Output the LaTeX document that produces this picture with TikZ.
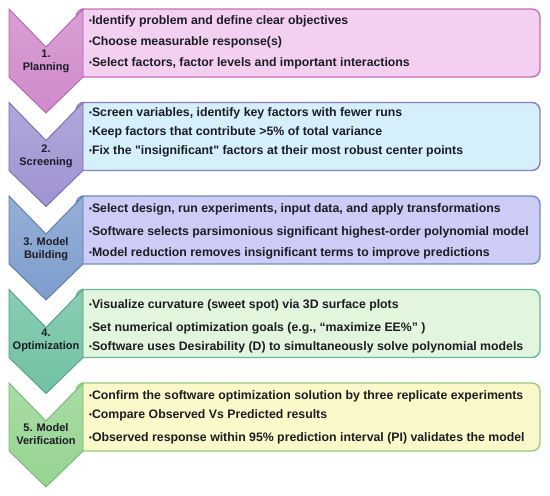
\documentclass[tikz,border=0pt]{standalone}
\usepackage{fontspec}
\newfontfamily\diagfont{Liberation Sans}
\definecolor{txt}{HTML}{1C1C24}
\definecolor{chA}{HTML}{D08ACB}\definecolor{chAd}{HTML}{B462AC}
\definecolor{bxA}{HTML}{F3D0EF}\definecolor{bxAd}{HTML}{C46EBC}
\definecolor{chB}{HTML}{A093D2}\definecolor{chBd}{HTML}{7A6AB2}
\definecolor{bxB}{HTML}{D5EFFB}\definecolor{bxBd}{HTML}{8C7CC0}
\definecolor{chC}{HTML}{7E9DCD}\definecolor{chCd}{HTML}{5A7AAE}
\definecolor{bxC}{HTML}{CCCCF6}\definecolor{bxCd}{HTML}{6E8EBF}
\definecolor{chD}{HTML}{70C2A2}\definecolor{chDd}{HTML}{4FA080}
\definecolor{bxD}{HTML}{E2F5DD}\definecolor{bxDd}{HTML}{66B896}
\definecolor{chE}{HTML}{96D491}\definecolor{chEd}{HTML}{74B870}
\definecolor{bxE}{HTML}{FBF9C9}\definecolor{bxEd}{HTML}{94CC80}
\tikzset{
  itemtext/.style={anchor=west, inner sep=0pt, text=txt, font=\diagfont\bfseries\fontsize{12.3}{14}\selectfont},
  chevlabel/.style={align=center, inner sep=0pt, text=txt, font=\diagfont\bfseries\fontsize{11}{13}\selectfont},
  boxshape/.style={line width=1.4pt, rounded corners=8pt},
}
\newcommand{\bl}{{\fontsize{8}{8}\selectfont\raisebox{0.8pt}{•}}}
\newcommand{\stage}[5]{%
  % #1 top y, #2 box fill, #3 box border, #4 chevron fill, #5 chevron border
  \draw[boxshape, fill=#2, draw=#3] (76,#1) rectangle (540,#1+68);
  \draw[line width=0.9pt, draw=#5, top color=#4!82!white, bottom color=#4, shading angle=0]
    (9,#1) -- (46,#1+38) -- (83,#1) -- (83,#1+68) -- (46,#1+104) -- (9,#1+68) -- cycle;
}
\begin{document}
\begin{tikzpicture}[x=1pt,y=-1pt]
\useasboundingbox (0,0) rectangle (550,496);
\stage{9}{bxA}{bxAd}{chA}{chAd}
\stage{102.5}{bxB}{bxBd}{chB}{chBd}
\stage{196}{bxC}{bxCd}{chC}{chCd}
\stage{289.5}{bxD}{bxDd}{chD}{chDd}
\stage{383}{bxE}{bxEd}{chE}{chEd}
% labels
\node[chevlabel] (la) at (46,61.5) {1.\\Planning};
\node[chevlabel] (lb) at (46,156) {2.\\Screening};
\node[chevlabel] (lc) at (46,249) {3. Model\\Building};
\node[chevlabel] (ld) at (46,340) {4.\\Optimization};
\node[chevlabel] (le) at (46,434) {5. Model\\Verification};
% box 1
\node[itemtext] (a1) at (89,21) {\bl Identify problem and define clear objectives};
\node[itemtext] (a2) at (89,42) {\bl Choose measurable response(s)};
\node[itemtext] (a3) at (89,63) {\bl Select factors, factor levels and important interactions};
% box 2
\node[itemtext] (b1) at (89,113) {\bl Screen variables, identify key factors with fewer runs};
\node[itemtext] (b2) at (89,132) {\bl Keep factors that contribute >5\% of total variance};
\node[itemtext] (b3) at (89,151) {\bl Fix the "insignificant" factors at their most robust center points};
% box 3
\node[itemtext] (c1) at (89,209) {\bl Select design, run experiments, input data, and apply transformations};
\node[itemtext] (c2) at (89,232) {\bl Software selects parsimonious significant highest-order polynomial model};
\node[itemtext] (c3) at (89,253) {\bl Model reduction removes insignificant terms to improve predictions};
% box 4
\node[itemtext] (d1) at (89,305) {\bl Visualize curvature (sweet spot) via 3D surface plots};
\node[itemtext] (d2) at (89,328) {\bl Set numerical optimization goals (e.g., “maximize EE\%” )};
\node[itemtext] (d3) at (89,347) {\bl Software uses Desirability (D) to simultaneously solve polynomial models};
% box 5
\node[itemtext] (e1) at (89,396) {\bl Confirm the software optimization solution by three replicate experiments};
\node[itemtext] (e2) at (89,415) {\bl Compare Observed Vs Predicted results};
\node[itemtext] (e3) at (89,438) {\bl Observed response within 95\% prediction interval (PI) validates the model};
\end{tikzpicture}
\end{document}
